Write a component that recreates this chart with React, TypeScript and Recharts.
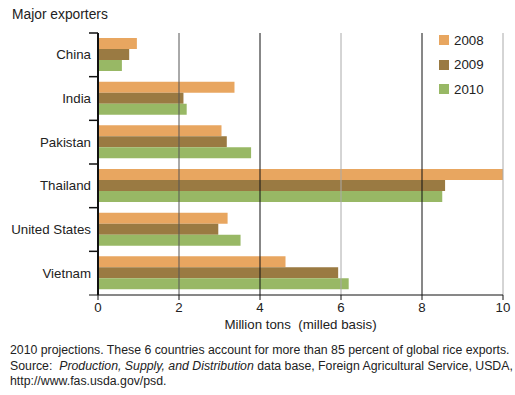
import React from 'react';
import { BarChart, Bar, XAxis, YAxis, ReferenceLine, Legend } from 'recharts';

const countries = ['China', 'India', 'Pakistan', 'Thailand', 'United States', 'Vietnam'];
const exports2008 = [0.96, 3.37, 3.05, 10.0, 3.2, 4.63];
const exports2009 = [0.77, 2.11, 3.18, 8.57, 2.97, 5.93];
const exports2010 = [0.59, 2.19, 3.78, 8.5, 3.52, 6.19];
const xTicks = [0, 2, 4, 6, 8, 10];
const seriesNames = ['2008', '2009', '2010'];

const colors = ['#E8A660', '#9A7A42', '#98B865'];
const gridColors: Record<number, string> = { 2: '#555', 4: '#111', 6: '#aaa', 8: '#111', 10: '#aaa' };

const data = countries.map((c, i) => ({
  name: c,
  y2008: exports2008[i],
  y2009: exports2009[i],
  y2010: exports2010[i],
}));

const FONT = '"Liberation Sans", Arial, Helvetica, sans-serif';
const PLOT_TOP = 33;
const PLOT_BOTTOM = 295;
const HALF_BAND = (PLOT_BOTTOM - PLOT_TOP) / countries.length / 2;

const YTick = (props: any) => {
  const { x, y, payload, index } = props;
  const axisX = x + 7;
  return (
    <g>
      <line x1={axisX - 9} x2={axisX} y1={y - HALF_BAND} y2={y - HALF_BAND} stroke="#111" strokeWidth={1.5} />
      {index === countries.length - 1 && (
        <line x1={axisX - 9} x2={axisX} y1={y + HALF_BAND} y2={y + HALF_BAND} stroke="#111" strokeWidth={1} />
      )}
      <text x={x} y={y} dy={4.5} textAnchor="end" fontSize={13.3} fill="#222" fontFamily={FONT}>
        {payload.value}
      </text>
    </g>
  );
};

const LegendContent = () => (
  <div style={{ fontFamily: FONT, fontSize: 13.3, color: '#222' }}>
    {seriesNames.map((n, i) => (
      <div key={n} style={{ display: 'flex', alignItems: 'center', height: 24.5 }}>
        <span style={{ display: 'inline-block', width: 10, height: 10, background: colors[i], marginRight: 5 }} />
        <span>{n}</span>
      </div>
    ))}
  </div>
);

export default function App() {
  return (
    <div style={{ position: 'absolute', left: 0, top: 0, width: 515, height: 395, background: '#fff', fontFamily: FONT }}>
      <div style={{ position: 'absolute', left: 12, top: 7, fontSize: 13.8, color: '#222' }}>Major exporters</div>
      <div style={{ position: 'absolute', left: 0, top: 0 }}>
        <BarChart
          width={515}
          height={340}
          data={data}
          layout="vertical"
          margin={{ top: PLOT_TOP, right: 12, bottom: 0, left: 0 }}
          barCategoryGap={5}
          barGap={0}
        >
          {xTicks.filter((t) => t > 0).map((t) => (
            <ReferenceLine key={t} x={t} stroke={gridColors[t]} strokeWidth={1} ifOverflow="extendDomain" />
          ))}
          <XAxis
            type="number"
            domain={[0, 10]}
            ticks={xTicks}
            height={45}
            tickSize={5}
            tickMargin={3}
            stroke="#111"
            tick={{ fontSize: 13.3, fill: '#222', fontFamily: FONT }}
            label={{ value: 'Million tons \u00a0(milled basis)', position: 'insideBottom', offset: 11, fontSize: 13.3, fill: '#222', fontFamily: FONT }}
          />
          <YAxis
            type="category"
            dataKey="name"
            width={98}
            tickLine={false}
            tickSize={5}
            tickMargin={2}
            axisLine={{ stroke: '#111', strokeWidth: 2 }}
            tick={<YTick />}
            interval={0}
          />
          <Legend
            layout="vertical"
            align="center"
            verticalAlign="middle"
            content={<LegendContent />}
            wrapperStyle={{ position: 'absolute', left: 439, top: 28, width: 60 }}
          />
          <Bar dataKey="y2008" name="2008" fill={colors[0]} isAnimationActive={false} />
          <Bar dataKey="y2009" name="2009" fill={colors[1]} isAnimationActive={false} />
          <Bar dataKey="y2010" name="2010" fill={colors[2]} isAnimationActive={false} />
        </BarChart>
      </div>
      <div style={{ position: 'absolute', left: 10, top: 343, fontSize: 12.3, lineHeight: '15.5px', color: '#222', width: 510, whiteSpace: 'nowrap' }}>
        <div>2010 projections. These 6 countries account for more than 85 percent of global rice exports.</div>
        <div>
          Source: &nbsp;<i>Production, Supply, and Distribution</i> data base, Foreign Agricultural Service, USDA,
        </div>
        <div>http://www.fas.usda.gov/psd.</div>
      </div>
    </div>
  );
}
